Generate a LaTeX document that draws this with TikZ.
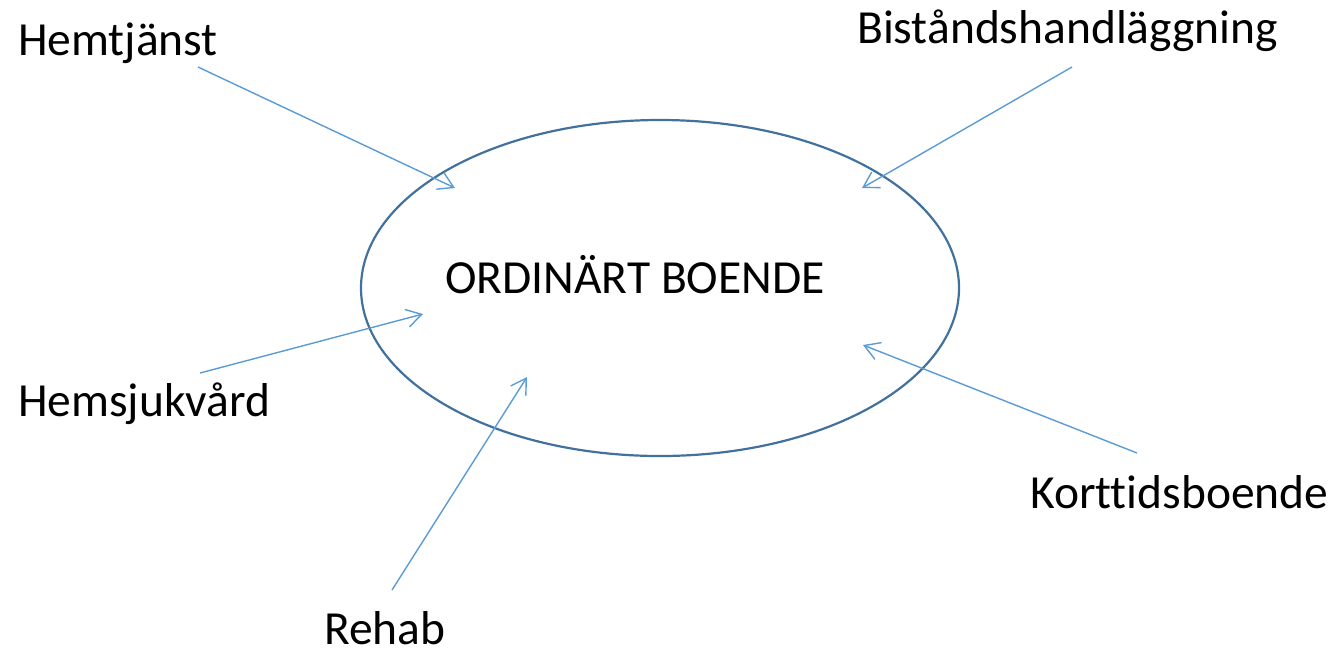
\documentclass[tikz,border=0pt]{standalone}
\usepackage{fontspec}
\setmainfont[Ligatures=NoCommon]{Carlito}
\usetikzlibrary{arrows.meta}
\definecolor{ellc}{HTML}{41719C}
\definecolor{arrc}{HTML}{5B9BD5}
\tikzset{
  lbl/.style={inner sep=0pt, anchor=base west, font=\fontsize{47.5}{56}\selectfont},
  conn/.style={draw=arrc, line width=1.4pt, -{Straight Barb[length=15pt,width=18pt,line width=1.4pt]}}
}
\begin{document}
\begin{tikzpicture}[x=1pt,y=-1pt]
\useasboundingbox (0,0) rectangle (1337,657);
\draw[ellc, line width=2.2pt] (660,288) ellipse [x radius=299, y radius=168];
\node[lbl] (ob) at (445,293) {ORDINÄRT BOENDE};
\node[lbl] (hem) at (18,55) {Hemtjänst};
\node[lbl] (bis) at (857,43) {Biståndshandläggning};
\node[lbl] (hsv) at (18,416) {Hemsjukvård};
\node[lbl] (kor) at (1030,508) {Korttidsboende};
\node[lbl, text depth=0pt] (reh) at (324,644) {Rehab};
\coordinate (s1) at (198,67);   \coordinate (t1) at (455,188);
\coordinate (s2) at (1072,67);  \coordinate (t2) at (862,188);
\coordinate (s3) at (200,373);  \coordinate (t3) at (423,314);
\coordinate (s4) at (392,590);  \coordinate (t4) at (527,377);
\coordinate (s5) at (1137,453); \coordinate (t5) at (863,345);
\draw[conn] (s1) -- (t1);
\draw[conn] (s2) -- (t2);
\draw[conn] (s3) -- (t3);
\draw[conn] (s4) -- (t4);
\draw[conn] (s5) -- (t5);
\end{tikzpicture}
\end{document}
